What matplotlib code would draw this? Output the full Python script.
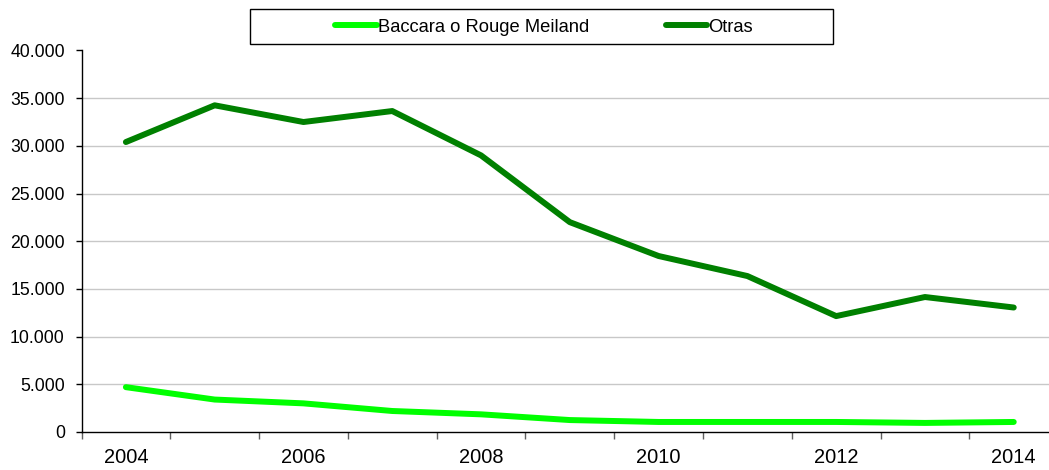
import matplotlib
matplotlib.use('Agg')
import matplotlib.pyplot as plt
from matplotlib.ticker import FixedLocator, FuncFormatter
from matplotlib.patches import Rectangle

plt.rcParams['font.family'] = ['Liberation Sans', 'DejaVu Sans']

years = [2004, 2005, 2006, 2007, 2008, 2009, 2010, 2011, 2012, 2013, 2014]
baccara = [4700, 3400, 3000, 2200, 1850, 1250, 1050, 1050, 1050, 950, 1050]
otras = [30400, 34250, 32500, 33650, 29000, 22000, 18450, 16350, 12150, 14150, 13050]
labels = ['Baccara o Rouge Meiland', 'Otras']
colors = ['#00FF00', '#008000']

fig = plt.figure(figsize=(10.49, 4.70), dpi=100)
# plot area runs slightly past the right edge of the picture, as in the original
ax = fig.add_axes([0.0777, 0.0809, 0.931, 0.8117])

x = list(range(len(years)))
ax.plot(x, baccara, color=colors[0], lw=4.3, solid_capstyle='round', label=labels[0], zorder=3)
ax.plot(x, otras, color=colors[1], lw=4.3, solid_capstyle='round', label=labels[1], zorder=3)

ax.set_xlim(-0.5, len(years) - 0.5)
ax.set_ylim(0, 40000)

# y axis
ax.yaxis.set_major_locator(FixedLocator(range(0, 40001, 5000)))
ax.yaxis.set_major_formatter(FuncFormatter(lambda v, p: '{:,.0f}'.format(v).replace(',', '.')))
ax.grid(axis='y', color='#C8C8C8', lw=1)
ax.yaxis.get_major_ticks()[-1].gridline.set_visible(False)
ax.yaxis.get_major_ticks()[0].gridline.set_visible(False)
ax.tick_params(axis='y', direction='out', length=4, width=1, pad=8, labelsize=12.7, colors='black')

# x axis: ticks on category boundaries, labels on every other year
ax.xaxis.set_major_locator(FixedLocator([i - 0.5 for i in x]))
ax.xaxis.set_major_formatter(FuncFormatter(lambda v, p: ''))
ax.set_xticks(x[::2], [str(y) for y in years[::2]], minor=True)
ax.tick_params(axis='x', which='major', direction='out', length=5, width=1, color='#606060')
ax.tick_params(axis='x', which='minor', length=0, pad=11.5, labelsize=14.4)

for s in ['top', 'right']:
    ax.spines[s].set_visible(False)
ax.spines['left'].set_linewidth(1)
ax.spines['bottom'].set_linewidth(1)

# legend box
fig.patches.append(Rectangle((250 / 1049, 1 - 44 / 470), 583 / 1049, 35 / 470,
                             transform=fig.transFigure, fill=False, edgecolor='black', lw=1))
fig.legend(loc='center', bbox_to_anchor=(544 / 1049, 1 - 27 / 470), ncol=2, frameon=False,
           handlelength=2.26, handletextpad=0.05, columnspacing=4.2, fontsize=13.2,
           borderpad=0, borderaxespad=0)

fig.savefig('out.png', dpi=100)
